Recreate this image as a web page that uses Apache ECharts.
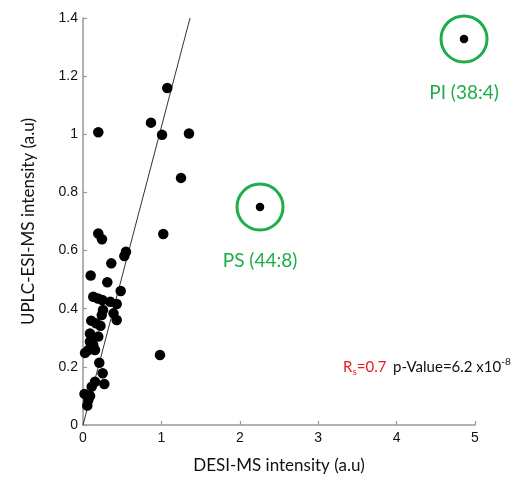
<!DOCTYPE html>
<html>
<head>
<meta charset="utf-8">
<script src="https://cdn.jsdelivr.net/npm/echarts@6/dist/echarts.min.js"></script>
<style>html,body{margin:0;padding:0;background:#fff}#c{width:513px;height:484px}</style>
</head>
<body>
<div id="c"></div>
<script>
// DESI-MS intensity (x) vs UPLC-ESI-MS intensity (y)
const xValues = [1.075,0.867,0.195,1.008,1.352,1.25,1.024,0.982,0.195,0.242,0.548,0.527,0.361,0.098,0.310,0.481,0.131,0.191,0.246,0.348,0.430,0.255,0.239,0.389,0.430,0.105,0.166,0.223,0.089,0.195,0.089,0.131,0.068,0.153,0.026,0.208,0.251,0.272,0.153,0.111,0.019,0.068,0.055,0.09];
const yValues = [1.159,1.040,1.007,0.998,1.003,0.850,0.657,0.241,0.659,0.639,0.596,0.581,0.556,0.514,0.491,0.461,0.441,0.435,0.430,0.424,0.416,0.396,0.378,0.384,0.361,0.359,0.350,0.341,0.315,0.304,0.287,0.275,0.258,0.258,0.248,0.214,0.178,0.141,0.149,0.132,0.107,0.086,0.067,0.100];
// Highlighted lipids
const hlNames = ['PS (44:8)','PI (38:4)'];
const hlX = [2.258, 4.86];
const hlY = [0.750, 1.328];
// Fitted line end points
const fitX = [0, 1.365];
const fitY = [0, 1.4];
const xTicks = [0,1,2,3,4,5];
const yTicks = [0,0.2,0.4,0.6,0.8,1,1.2,1.4];

const chart = echarts.init(document.getElementById('c'), null, {renderer:'canvas'});
const axisCol = '#999';
const labelFont = {color:'#111', fontSize:14, fontFamily:'Liberation Sans, Arial, sans-serif'};
const titleFont = 'Lato, Open Sans, sans-serif';
const option = {
  animation:false,
  backgroundColor:'#fff',
  grid:{left:83, right:38, top:18, bottom:59, containLabel:false},
  xAxis:{
    type:'value', min:xTicks[0], max:xTicks[xTicks.length-1], interval:1,
    name:'DESI-MS intensity (a.u)', nameLocation:'middle', nameGap:32,
    nameTextStyle:{fontSize:17, color:'#111', fontFamily:titleFont},
    axisLine:{show:true, lineStyle:{color:axisCol, width:1.5}},
    axisTick:{show:true, inside:true, length:4, lineStyle:{color:axisCol, width:1.2}},
    axisLabel:Object.assign({margin:6}, labelFont),
    splitLine:{show:false}
  },
  yAxis:{
    type:'value', min:yTicks[0], max:yTicks[yTicks.length-1], interval:0.2,
    name:'UPLC-ESI-MS intensity (a.u)', nameLocation:'middle', nameGap:46,
    nameTextStyle:{fontSize:17, color:'#111', fontFamily:titleFont},
    axisLine:{show:true, lineStyle:{color:axisCol, width:1.5}},
    axisTick:{show:true, inside:true, length:4, lineStyle:{color:axisCol, width:1.2}},
    axisLabel:Object.assign({margin:5}, labelFont),
    splitLine:{show:false}
  },
  series:[
    {
      type:'line', data:fitX.map((x,i)=>[x,fitY[i]]), symbol:'none',
      lineStyle:{color:'#333', width:1}, z:1
    },
    {
      type:'scatter', data:xValues.map((x,i)=>[x,yValues[i]]),
      symbolSize:10.5, itemStyle:{color:'#000', opacity:1}, z:3
    },
    {
      type:'scatter', data:hlX.map((x,i)=>({value:[x,hlY[i]], name:hlNames[i]})),
      symbolSize:8.5, itemStyle:{color:'#000', opacity:1}, z:3
    },
    {
      type:'scatter', data:hlX.map((x,i)=>({value:[x,hlY[i]], name:hlNames[i]})),
      symbol:'circle', symbolSize:46,
      itemStyle:{color:'rgba(0,0,0,0)', borderColor:'#1DAE4B', borderWidth:3, opacity:1},
      label:{show:true, position:'bottom', distance:20, formatter:'{b}',
        color:'#1DAE4B', fontSize:19, fontFamily:titleFont},
      z:2, silent:true
    }
  ],
  graphic:[
    {
      type:'text', left:343, top:357,
      style:{
        text:'{r|R}{s|s}{r|=0.7}  {p|p-Value=6.2 x10}{e|-8}',
        rich:{
          r:{fontSize:15, fill:'#e8191f', fontFamily:titleFont, lineHeight:20, verticalAlign:'middle'},
          s:{fontSize:10, fill:'#e8191f', fontFamily:titleFont, lineHeight:20, verticalAlign:'bottom'},
          p:{fontSize:15, fill:'#111', fontFamily:titleFont, lineHeight:20, verticalAlign:'middle'},
          e:{fontSize:10, fill:'#111', fontFamily:titleFont, lineHeight:20, verticalAlign:'top'}
        }
      }
    }
  ]
};
chart.setOption(option);
</script>
</body>
</html>
